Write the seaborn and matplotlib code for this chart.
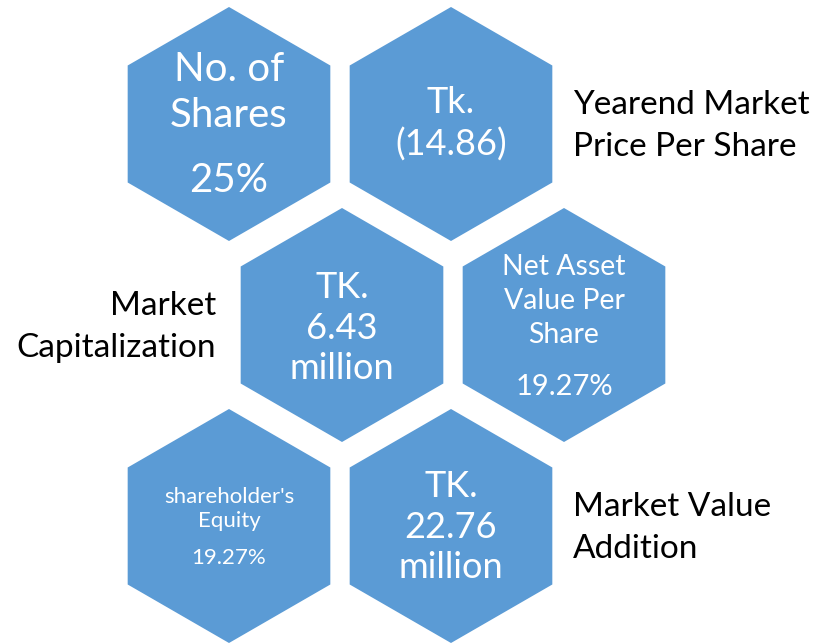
import matplotlib.pyplot as plt
import seaborn as sns
from matplotlib.patches import RegularPolygon

# hexagon contents, row by row
hex_row = [0, 0, 1, 1, 2, 2]
hex_col = [0, 1, 0, 1, 0, 1]
hex_title = ["No. of\nShares", "Tk.\n(14.86)", "TK.\n6.43\nmillion",
             "Net Asset\nValue Per\nShare", "shareholder's\nEquity", "TK.\n22.76\nmillion"]
hex_value = ["25%", "", "", "19.27%", "19.27%", ""]

# captions placed beside the hexagons
side_text = ["Yearend Market\nPrice Per Share", "Market\nCapitalization", "Market Value\nAddition"]
side_row = [0, 1, 2]

sns.set_theme(style="white")
plt.rcParams['font.family'] = ['Lato', 'DejaVu Sans']

blue = "#5B9BD5"
fig, ax = plt.subplots(figsize=(8.19, 6.44), dpi=100)
fig.subplots_adjust(0, 0, 1, 1)
ax.set_xlim(0, 819)
ax.set_ylim(644, 0)
ax.axis("off")

R = 117
row_y = [124, 325, 526]
col_x = [229, 451]
row_shift = [0, 113, 0]

title_size = [29, 26, 26, 20.5, 16, 26]
title_dy = [-32, 0, 3, -24, -17, 1]
title_ls = [1.3, 1.3, 1.26, 1.4, 1.2, 1.26]
value_dy = [56, 0, 0, 62, 32, 0]
value_size = [29, 0, 0, 21, 16, 0]

for i in range(len(hex_title)):
    cx = col_x[hex_col[i]] + row_shift[hex_row[i]]
    cy = row_y[hex_row[i]]
    ax.add_patch(RegularPolygon((cx, cy), 6, radius=R, facecolor=blue, edgecolor="none"))
    ax.text(cx, cy + title_dy[i], hex_title[i], color="white", fontsize=title_size[i],
            ha="center", va="center", linespacing=title_ls[i])
    if hex_value[i]:
        ax.text(cx, cy + value_dy[i], hex_value[i], color="white", fontsize=value_size[i],
                ha="center", va="center")

side_x = [573, 216, 573]
side_ha = ["left", "right", "left"]
for txt, r, x, ha in zip(side_text, side_row, side_x, side_ha):
    ax.text(x, row_y[r] + 2, txt, color="black", fontsize=24, ha=ha, va="center",
            multialignment=ha, linespacing=1.5)

fig.savefig("out.png", dpi=100)
